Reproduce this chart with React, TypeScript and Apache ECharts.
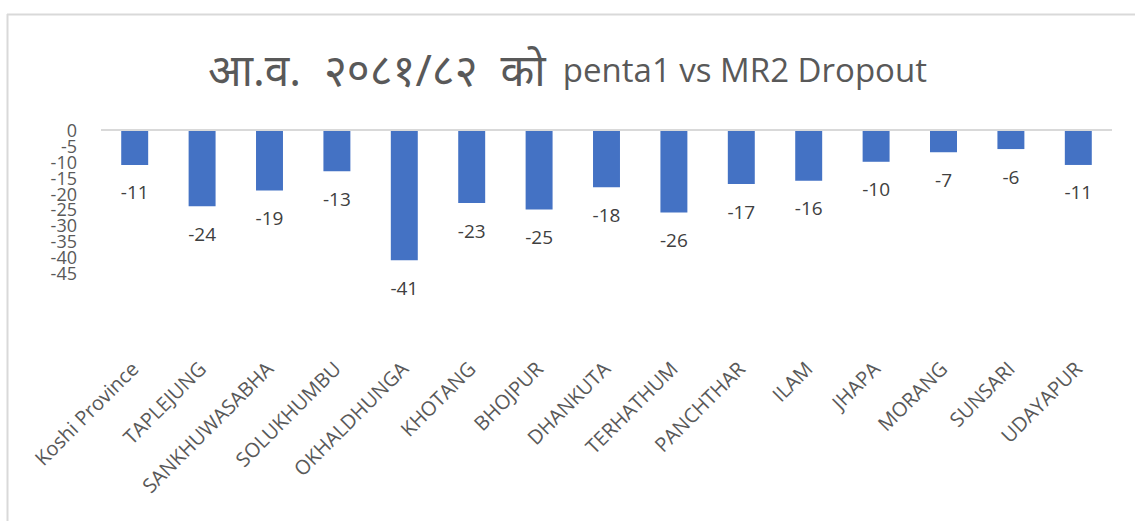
import React, { useEffect, useRef } from "react";
import * as echarts from "echarts";

const categories = [
  "Koshi Province",
  "TAPLEJUNG",
  "SANKHUWASABHA",
  "SOLUKHUMBU",
  "OKHALDHUNGA",
  "KHOTANG",
  "BHOJPUR",
  "DHANKUTA",
  "TERHATHUM",
  "PANCHTHAR",
  "ILAM",
  "JHAPA",
  "MORANG",
  "SUNSARI",
  "UDAYAPUR",
];
const dropout = [-11, -24, -19, -13, -41, -23, -25, -18, -26, -17, -16, -10, -7, -6, -11];
const yTickLabels = ["-45", "-40", "-35", "-30", "-25", "-20", "-15", "-10", "-5", "0"];
const titleNepali = "आ.व.  २०८१/८२  को";
const titleLatin = "penta1 vs MR2 Dropout";

export default function App() {
  const ref = useRef<HTMLDivElement>(null);
  useEffect(() => {
    document.body.style.margin = "0";
    const chart = echarts.init(ref.current!, null, { renderer: "svg" });
    chart.setOption({
      animation: false,
      backgroundColor: "#ffffff",
      textStyle: { fontFamily: "'Open Sans', 'Noto Sans', sans-serif" },
      title: {
        text: "{a|" + titleNepali + "}  {b|" + titleLatin + "}",
        left: "center",
        top: 42,
        textStyle: {
          fontSize: 33,
          fontWeight: "normal",
          color: "#595959",
          rich: {
            a: { fontSize: 44, color: "#595959", fontFamily: "'Noto Sans', sans-serif" },
            b: { fontSize: 33, color: "#595959", fontFamily: "'Open Sans', sans-serif" },
          },
        },
      },
      graphic: [
        {
          type: "line",
          shape: { x1: 7, y1: 14.5, x2: 1135, y2: 14.5 },
          style: { stroke: "#d9d9d9", lineWidth: 2 },
        },
        {
          type: "line",
          shape: { x1: 7.5, y1: 14, x2: 7.5, y2: 521 },
          style: { stroke: "#d9d9d9", lineWidth: 2 },
        },
      ],
      grid: { left: 101, right: 23, top: 130, bottom: 248, containLabel: false },
      xAxis: {
        type: "category",
        data: categories,
        position: "bottom",
        axisLine: { show: false },
        axisTick: { show: false },
        axisLabel: {
          rotate: 45,
          interval: 0,
          margin: 92,
          fontSize: 20,
          color: "#595959",
        },
      },
      yAxis: [
        {
          type: "value",
          min: -45,
          max: 0,
          interval: 5,
          axisLine: { show: false },
          axisTick: { show: false },
          splitLine: { show: false },
          axisLabel: { show: false },
        },
        {
          type: "category",
          data: yTickLabels,
          position: "left",
          boundaryGap: false,
          axisLine: { show: false },
          axisTick: { show: false },
          splitLine: { show: false },
          axisLabel: {
            interval: 0,
            fontSize: 18,
            color: "#595959",
            margin: 24,
          },
        },
      ],
      series: [
        {
          type: "bar",
          yAxisIndex: 0,
          data: dropout,
          barWidth: "40%",
          itemStyle: { color: "#4472c4" },
          label: {
            show: true,
            position: "bottom",
            distance: 18,
            fontSize: 19,
            color: "#404040",
          },
          markLine: {
            silent: true,
            symbol: "none",
            label: { show: false },
            lineStyle: { color: "#d9d9d9", width: 2, type: "solid" },
            data: [{ yAxis: 0 }],
          },
        },
      ],
    });
    return () => chart.dispose();
  }, []);
  return (
    <div
      ref={ref}
      style={{ position: "absolute", left: 0, top: 0, width: 1135, height: 521 }}
    />
  );
}
